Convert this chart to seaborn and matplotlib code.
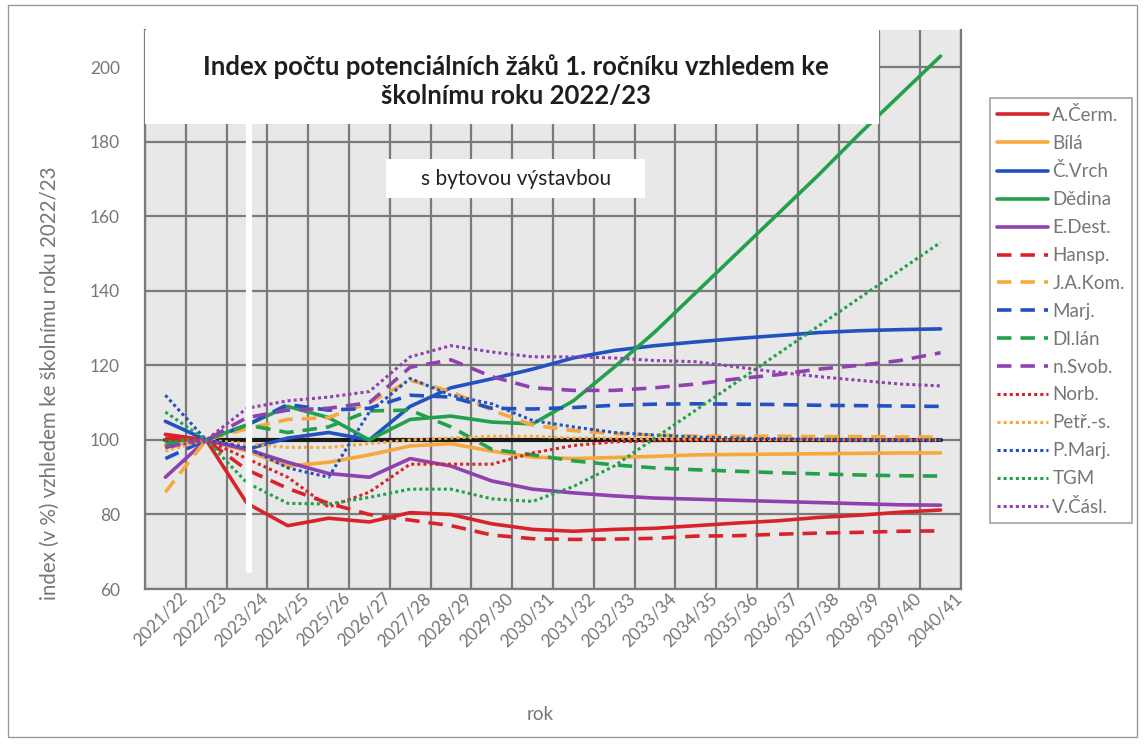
import numpy as np
import pandas as pd
import matplotlib
matplotlib.use('Agg')
import matplotlib.pyplot as plt
import matplotlib.transforms as mtransforms
import seaborn as sns
from matplotlib.patches import Rectangle

# skolni roky na ose x
roky = ['2021/22', '2022/23', '2023/24', '2024/25', '2025/26', '2026/27', '2027/28',
        '2028/29', '2029/30', '2030/31', '2031/32', '2032/33', '2033/34', '2034/35',
        '2035/36', '2036/37', '2037/38', '2038/39', '2039/40', '2040/41']

skoly = ['A.Čerm.', 'Bílá', 'Č.Vrch', 'Dědina', 'E.Dest.',
         'Hansp.', 'J.A.Kom.', 'Marj.', 'Dl.lán', 'n.Svob.',
         'Norb.', 'Petř.-s.', 'P.Marj.', 'TGM', 'V.Čásl.']

# index (v %) vzhledem ke skolnimu roku 2022/23
a_cerm = [101.5, 100, 83, 77, 79, 78, 80.5, 80, 77.5, 76, 75.5, 76, 76.3, 77, 77.7, 78.3, 79.2, 79.8, 80.6, 81.2]
bila = [98.5, 100, 97, 93, 94, 96, 98.4, 99, 97, 95.4, 95, 95.3, 95.6, 96, 96.1, 96.2, 96.3, 96.4, 96.5, 96.5]
c_vrch = [105, 100, 97.5, 100.5, 102, 100, 109, 114, 116.4, 119, 122, 124, 125.3, 126.3, 127.2, 128, 128.8, 129.3, 129.6, 129.8]
dedina = [100, 100, 104, 109, 106, 100, 105.5, 106.4, 104.8, 104.3, 110.5, 119.5, 129, 139.5, 150, 160.5, 171, 182, 192.5, 203]
e_dest = [90, 100, 97.5, 94, 91, 90, 95, 93, 89, 86.8, 85.8, 85, 84.4, 84.1, 83.8, 83.5, 83.2, 82.9, 82.6, 82.5]
hansp = [100.5, 100, 92, 87, 83, 80, 78.5, 77, 74.5, 73.5, 73.3, 73.4, 73.6, 74.2, 74.3, 74.7, 75, 75.2, 75.5, 75.6]
ja_kom = [86, 100, 103, 105.5, 106, 110, 116, 113, 108, 104, 102.5, 101.7, 101.3, 101, 101, 101, 100.9, 100.9, 100.8, 100.8]
marj = [95, 100, 104, 109.5, 108, 108.5, 112, 111.5, 108.5, 108.3, 108.7, 109.3, 109.6, 109.7, 109.6, 109.5, 109.3, 109.2, 109.1, 109]
dl_lan = [99, 100, 104, 102, 103.5, 107.8, 108, 103.5, 97.5, 96, 94.4, 93.3, 92.5, 92, 91.6, 91.2, 90.9, 90.6, 90.4, 90.3]
n_svob = [98, 100, 106, 108, 108.5, 110, 119.5, 121.5, 117, 114, 113.3, 113.3, 114, 115, 116.4, 117.5, 119, 120, 121.3, 123.4]
norb = [100, 100, 95, 90, 82, 86, 93.5, 93.5, 93.5, 96.5, 98.5, 99.5, 99.8, 99.9, 100, 100, 100, 100, 100, 100]
petr_s = [97, 100, 99, 98, 98, 99, 100, 100.5, 101, 101, 100.5, 100.5, 100.3, 100.2, 100.2, 100.1, 100.1, 100, 100, 100]
p_marj = [112, 100, 98, 92.5, 90, 107.5, 116.5, 112, 109.7, 105.2, 103.5, 102, 101.3, 100.8, 100.5, 100.3, 100.2, 100.1, 100, 100]
tgm = [107.5, 100, 88.5, 83, 82.8, 84.6, 86.8, 86.8, 84.2, 83.5, 87.5, 93, 100.5, 108, 115.5, 123, 130.5, 138, 145.5, 153]
v_casl = [98, 100, 108.5, 110.5, 111.5, 113, 122.3, 125.3, 123.6, 122.3, 122.3, 122, 121.3, 121, 119.6, 118.2, 117, 116, 115, 114.5]
zaklad = [100] * 20

hodnoty = [a_cerm, bila, c_vrch, dedina, e_dest, hansp, ja_kom, marj, dl_lan, n_svob,
           norb, petr_s, p_marj, tgm, v_casl]

barvy = ['#d9232b', '#f7a83c', '#2251c2', '#22a04c', '#9140b0']
styly = ['-', (0, (4, 2.5)), (0, (1, 1))]

sns.set_style('white')
plt.rcParams['font.family'] = ['Lato', 'DejaVu Sans']
seda = '#767676'

fig = plt.figure(figsize=(11.44, 7.44), dpi=100)
ax = fig.add_axes([0.1267, 0.2083, 0.7133, 0.7514])
ax.set_facecolor('#e8e8e8')

x = np.arange(len(roky))
for i, (skola, vals) in enumerate(zip(skoly, hodnoty)):
    sns.lineplot(x=x, y=vals, ax=ax, color=barvy[i % 5], linestyle=styly[i // 5],
                 linewidth=2.6 if i < 10 else 2.2, label=skola, zorder=3)
sns.lineplot(x=x, y=zaklad, ax=ax, color='#1a1a1a', linewidth=3, legend=False, zorder=2.5)

ax.set_xlim(-0.5, 19.5)
ax.set_ylim(60, 210)
ax.set_yticks(range(60, 201, 20))
ax.set_xticks(x)
ax.set_xticklabels(roky, rotation=45, ha='right', rotation_mode='anchor')
ax.set_xticks(np.arange(-0.5, 20, 1), minor=True)
ax.grid(False)
ax.grid(True, which='minor', axis='x', color='#7a7a7a', linewidth=1.6, zorder=0)
ax.grid(True, which='major', axis='y', color='#7a7a7a', linewidth=1.6, zorder=0)
ax.set_axisbelow(True)
ax.tick_params(axis='both', which='both', length=0, labelsize=12.5, colors=seda)
ax.tick_params(axis='y', pad=18)
ax.tick_params(axis='x', pad=2)
posun = mtransforms.ScaledTranslation(0.13, 0.02, fig.dpi_scale_trans)
for lab in ax.get_xticklabels():
    lab.set_transform(lab.get_transform() + posun)
for s in ax.spines.values():
    s.set_color('#7a7a7a')
    s.set_linewidth(1.6)
ax.spines['top'].set_visible(False)
ax.set_xlabel('')
ax.set_ylabel('')

# bile oddeleni a boxy s textem
ax.plot([2.05, 2.05], [65, 185], color='white', linewidth=4.5, zorder=6)
ax.add_patch(Rectangle((-0.5, 184.9), 18, 26, facecolor='white', edgecolor='none', zorder=7))
ax.add_patch(Rectangle((5.42, 164.8), 6.34, 10.7, facecolor='white', edgecolor='none', zorder=7))
ax.text(8.6, 196.3, 'Index počtu potenciálních žáků 1. ročníku vzhledem ke\nškolnímu roku 2022/23',
        ha='center', va='center', fontsize=18.5, fontweight='bold', color='#1e1e1e',
        linespacing=1.22, zorder=8)
ax.text(8.6, 170.1, 's bytovou výstavbou', ha='center', va='center', fontsize=15,
        color='#222222', zorder=8)

fig.text(0.044, 1 - 383 / 744, 'index (v %) vzhledem ke školnímu roku 2022/23', rotation=90,
         ha='center', va='center', fontsize=14.8, color=seda)
fig.text(540 / 1144, 1 - 715 / 744, 'rok', ha='center', va='center', fontsize=13.5, color=seda)

handles, labels = ax.get_legend_handles_labels()
ax.get_legend().remove()
leg = fig.legend(handles, labels, loc='upper left', bbox_to_anchor=(0.865, 0.868),
                 fontsize=13.5, frameon=True, fancybox=False, edgecolor='#8a8a8a',
                 handlelength=2.7, handletextpad=0.25, labelspacing=0.58, borderpad=0.4,
                 borderaxespad=0)
leg.get_frame().set_linewidth(1.2)
for t in leg.get_texts():
    t.set_color(seda)

fig.patches.append(Rectangle((0.007, 0.009), 0.987, 0.984, transform=fig.transFigure,
                             fill=False, edgecolor='#9a9a9a', linewidth=1))

fig.savefig('out.png', dpi=100, facecolor='white')
